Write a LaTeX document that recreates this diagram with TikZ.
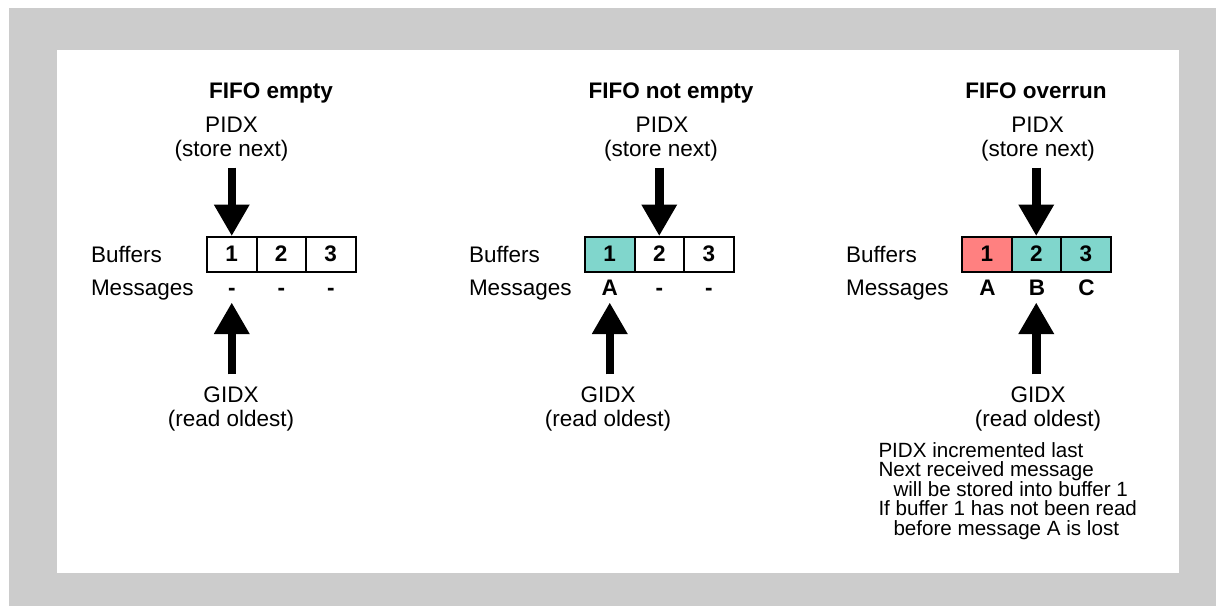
\documentclass[tikz,border=0pt]{standalone}
\usepackage{fontspec}
\setmainfont{Liberation Sans}
\usetikzlibrary{arrows.meta,calc}
\definecolor{bggray}{HTML}{CCCCCC}
\definecolor{msgteal}{RGB}{128,214,204}
\definecolor{msgred}{RGB}{255,128,128}
\begin{document}
\begin{tikzpicture}[x=1pt,y=-1pt,
  lbl/.style={inner sep=0pt,outer sep=0pt,anchor=base,font=\fontsize{22.5}{24}\selectfont},
  lblw/.style={lbl,anchor=base west},
  ttl/.style={lbl,font=\fontsize{22.5}{24}\selectfont\bfseries},
  msg/.style={lbl,font=\fontsize{22.5}{24}\selectfont\bfseries},
  note/.style={inner sep=0pt,outer sep=0pt,anchor=base west,font=\fontsize{20.6}{19.5}\selectfont},
  cell/.style={draw,line width=2pt,minimum width=49.5pt,minimum height=35pt,inner sep=0pt,font=\fontsize{22.5}{24}\selectfont\bfseries},
  bigarrow/.style={line width=8.5pt,-{Triangle[width=36pt,length=31pt,line width=0pt]}}
]
\useasboundingbox (0,0) rectangle (1216,606);
\fill[bggray] (9,8) rectangle (1216,606);
\fill[white] (57,50) rectangle (1179,573);

% ---------- Panel 1: FIFO empty ----------
\node[ttl] (t1) at (271,98) {FIFO empty};
\node[lbl] (p1a) at (231.5,132) {PIDX};
\node[lbl] (p1b) at (231.5,156) {(store next)};
\node[lblw] (b1) at (91,262) {Buffers};
\node[lblw] (ms1) at (91,295) {Messages};
\node[cell] (c1a) at (231.75,254) {1};
\node[cell] (c1b) at (281.25,254) {2};
\node[cell] (c1c) at (330.75,254) {3};
\node[msg] (m1a) at (231.75,295) {-};
\node[msg] (m1b) at (281.25,295) {-};
\node[msg] (m1c) at (330.75,295) {-};
\node[lbl] (g1a) at (231,402) {GIDX};
\node[lbl] (g1b) at (231,426.5) {(read oldest)};
\draw[bigarrow,shorten <=7pt] (c1a.north |- p1b.south) -- (c1a.north);
\draw[bigarrow,shorten <=12pt,shorten >=8pt] (c1a.south |- g1a.north) -- (c1a.south |- m1a.south);

% ---------- Panel 2: FIFO not empty ----------
\node[ttl] (t2) at (671,98) {FIFO not empty};
\node[lbl] (p2a) at (662,132) {PIDX};
\node[lbl] (p2b) at (661,156) {(store next)};
\node[lblw] (b2) at (469,262) {Buffers};
\node[lblw] (ms2) at (469,295) {Messages};
\node[cell,fill=msgteal] (c2a) at (609.75,254) {1};
\node[cell] (c2b) at (659.25,254) {2};
\node[cell] (c2c) at (708.75,254) {3};
\node[msg] (m2a) at (609.75,295) {A};
\node[msg] (m2b) at (659.25,295) {-};
\node[msg] (m2c) at (708.75,295) {-};
\node[lbl] (g2a) at (608,402) {GIDX};
\node[lbl] (g2b) at (608,426.5) {(read oldest)};
\draw[bigarrow,shorten <=7pt] (c2b.north |- p2b.south) -- (c2b.north);
\draw[bigarrow,shorten <=12pt,shorten >=8pt] (c2a.south |- g2a.north) -- (c2a.south |- m2a.south);

% ---------- Panel 3: FIFO overrun ----------
\node[ttl] (t3) at (1036,98) {FIFO overrun};
\node[lbl] (p3a) at (1037.5,132) {PIDX};
\node[lbl] (p3b) at (1038,156) {(store next)};
\node[lblw] (b3) at (846,262) {Buffers};
\node[lblw] (ms3) at (846,295) {Messages};
\node[cell,fill=msgred] (c3a) at (986.75,254) {1};
\node[cell,fill=msgteal] (c3b) at (1036.25,254) {2};
\node[cell,fill=msgteal] (c3c) at (1085.75,254) {3};
\node[msg] (m3a) at (987.5,295) {A};
\node[msg] (m3b) at (1037,295) {B};
\node[msg] (m3c) at (1086.5,295) {C};
\node[lbl] (g3a) at (1038,402) {GIDX};
\node[lbl] (g3b) at (1038,426.5) {(read oldest)};
\draw[bigarrow,shorten <=7pt] (c3b.north |- p3b.south) -- (c3b.north);
\draw[bigarrow,shorten <=12pt,shorten >=8pt] (c3b.south |- g3a.north) -- (c3b.south |- m3b.south);

% ---------- Note ----------
\node[note] (n1) at (878.5,457) {PIDX incremented last};
\node[note] (n2) at (878.5,476.5) {Next received message};
\node[note] (n3) at (893.5,496) {will be stored into buffer 1};
\node[note] (n4) at (878.5,515.5) {If buffer 1 has not been read};
\node[note] (n5) at (893.5,535) {before message A is lost};
\end{tikzpicture}
\end{document}
